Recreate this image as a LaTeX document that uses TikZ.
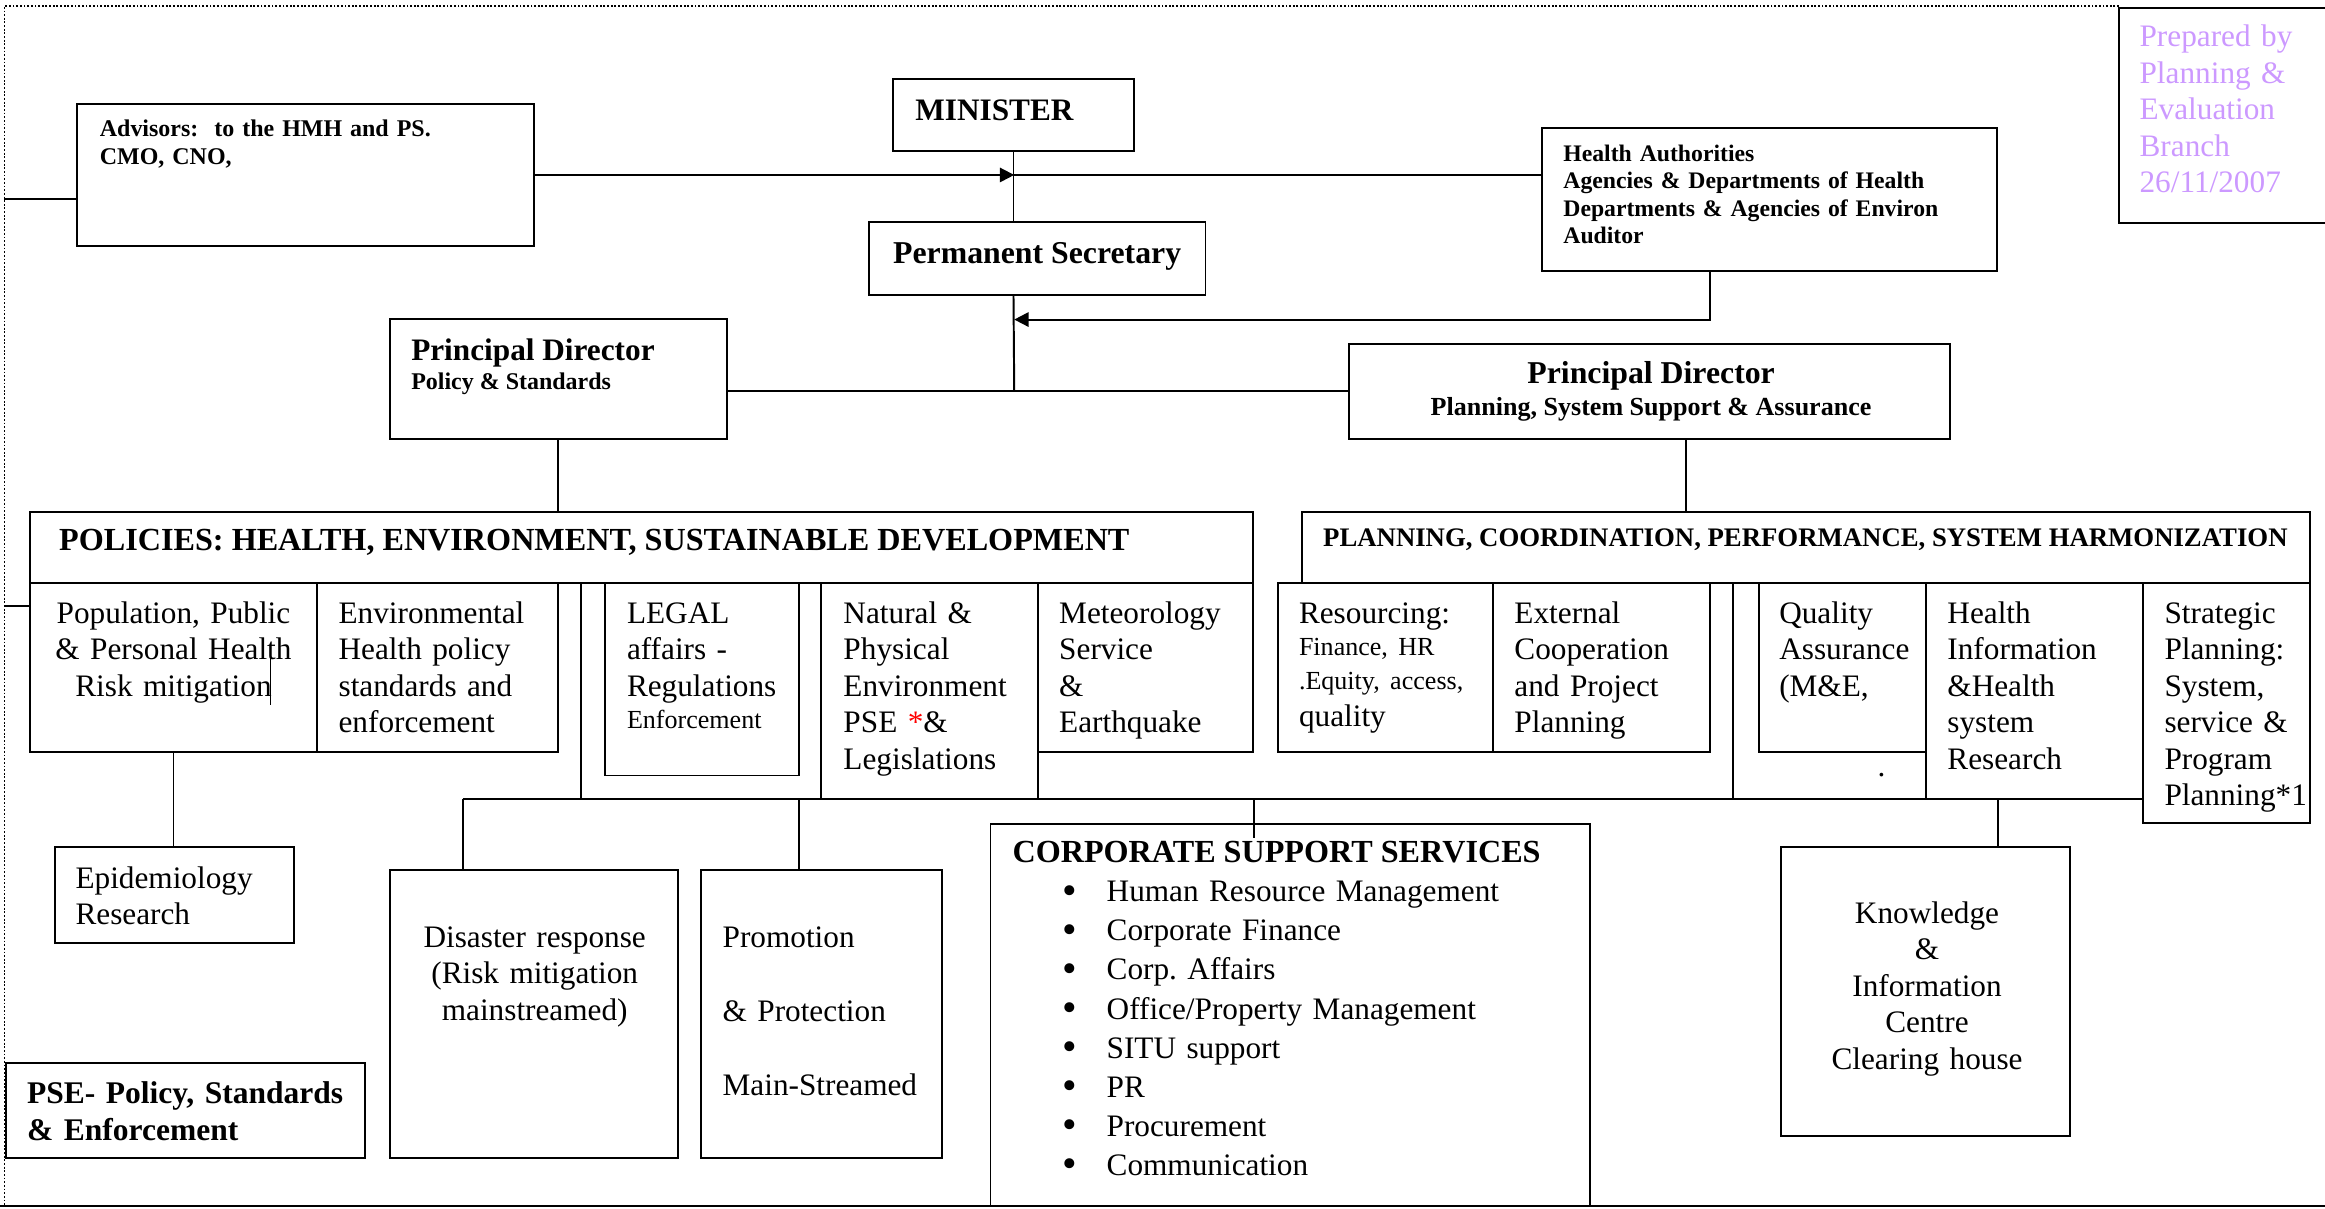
\documentclass[tikz,border=0pt]{standalone}
\usepackage{fontspec}
\setmainfont{Liberation Serif}
\usetikzlibrary{arrows.meta}
\definecolor{lav}{RGB}{204,153,255}
\newcommand\mkbox[5]{\node[box,minimum width={(#4-#2)*0.02cm},minimum height={(#5-#3)*0.02cm},anchor=north west] (#1) at (#2,#3) {};}
\newcommand\bul{\makebox[0.6cm][l]{\raisebox{-0.9pt}{\fontsize{16}{15}\selectfont\textbullet}}}
\begin{document}
\frenchspacing
\begin{tikzpicture}[x=0.02cm,y=-0.02cm,
  box/.style={draw,line width=0.75pt,inner sep=0pt,outer sep=0pt,rectangle},
  conn/.style={line width=0.75pt},
  arr/.style={line width=0.75pt,-{Triangle[length=5.5pt,width=5.5pt]}},
  tl/.style={inner sep=0pt,anchor=base west,align=left,font=\fontsize{12}{14}\selectfont},
  tc/.style={inner sep=0pt,anchor=base,align=center,font=\fontsize{12}{14}\selectfont},
  bs/.style={inner sep=0pt,anchor=base west,align=left,font=\bfseries\fontsize{9.2}{10.7}\selectfont},
  bb/.style={inner sep=0pt,anchor=base west,font=\bfseries\fontsize{12}{14}\selectfont},
  frame/.style={line width=0.6pt,dash pattern=on 0.7pt off 0.7pt}]
\useasboundingbox (0,0) rectangle (1568,815);
% frame
\draw[frame] (1429,4) -- (3,4) -- (3,813);
\draw[line width=0.9pt] (0,813.5) -- (1568,813.5);
\draw[box] (1568,5.6) -- (1429,5.6) -- (1429,150.6) -- (1568,150.6);
% boxes
\mkbox{adv}{52}{70}{360}{166}
\mkbox{min}{602}{53}{765}{102}
\mkbox{ps}{586}{150}{813}{199}
\mkbox{ha}{1040}{86}{1347}{183}
\mkbox{pdl}{263}{215}{490}{296}
\mkbox{pdr}{910}{232}{1315}{296}
\mkbox{pol}{20}{345}{845}{393}
\mkbox{ca}{20}{393}{214}{507}
\mkbox{cb}{214}{393}{376}{507}
\mkbox{legal}{408}{393}{539}{523}
\mkbox{nat}{554}{393}{700}{539}
\mkbox{met}{700}{393}{845}{507}
\mkbox{plan}{878}{345}{1558}{393}
\mkbox{res}{862}{393}{1007}{507}
\mkbox{ext}{1007}{393}{1153}{507}
\mkbox{qa}{1186}{393}{1299}{507}
\mkbox{hi}{1299}{393}{1445}{539}
\mkbox{sp}{1445}{393}{1558}{555}
\mkbox{epi}{37}{571}{198}{636}
\mkbox{dis}{263}{587}{457}{781}
\mkbox{pro}{473}{587}{635}{781}
\mkbox{css}{668}{556}{1072}{813}
\mkbox{kn}{1201}{571}{1396}{766}
\mkbox{pse}{4}{717}{246}{781}
% junction coordinates
\coordinate (fl1) at (3,134);
\coordinate (fl2) at (3,409);
\coordinate (j1) at (684,118);
\coordinate (j2) at (684,215.5);
\coordinate (j3) at (684,264);
\coordinate (jha) at (1153.5,200);
\coordinate (jpr) at (1137,320);
\coordinate (jv1) at (392,539);
\coordinate (jd) at (312,539);
\coordinate (jp) at (539,539);
\coordinate (jc) at (846,539);
\coordinate (cssend) at (846,565);
\coordinate (jv2) at (1169,539);
\coordinate (jk) at (1347.5,539);
% connectors
\draw[conn] (fl1) -- (adv.west |- fl1);
\draw[arr] (adv.east |- j1) -- (j1);
\draw[conn] (ha.west |- j1) -- (j1);
\draw[conn] (min.south) -- (min.south |- ps.north);
\draw[conn] (min.south |- ps.south) -- (j3);
\draw[arr] (jha |- ha.south) |- (j2);
\draw[conn] (pdl.east |- j3) -- (pdr.west |- j3);
\draw[conn] (pdl.south) -- (pdl.south |- pol.north);
\draw[conn] (jpr |- pdr.south) -- (jpr |- plan.north);
\draw[conn] (fl2) -- (ca.west |- fl2);
\draw[conn] (ca.south) -- (ca.south |- epi.north);
\draw[conn] (jv1 |- pol.south) -- (jv1);
\draw[conn] (jd) -- (sp.west |- jd);
\draw[conn] (jd) -- (jd |- dis.north);
\draw[conn] (jp) -- (jp |- pro.north);
\draw[conn] (jc) -- (cssend);
\draw[conn] (jv2 |- plan.south) -- (jv2);
\draw[conn] (jk) -- (jk |- kn.north);
\draw[line width=0.4pt] (182.3,438) -- (182.3,475.5);
% texts
\node[bs,text width=6cm,font=\bfseries\fontsize{9.2}{10.8}\selectfont] (tadv) at (67,92) {Advisors:~ to the HMH and PS.\\CMO, CNO,};
\node[bb] (tmin) at (617,81) {MINISTER};
\node[bb,font=\bfseries\fontsize{12.2}{14}\selectfont] (tps) at (602,177.6) {Permanent Secretary};
\node[bs,text width=6cm,font=\bfseries\fontsize{9.1}{10.5}\selectfont] (tha) at (1054,109) {Health Authorities\\Agencies \& Departments of Health\\Departments \& Agencies of Environ\\Auditor};
\node[tl,text width=2.6cm,text=lav] (tprep) at (1442.6,31.5) {Prepared by\\Planning \&\\Evaluation\\Branch\\26/11/2007};
\node[bb] (tpdl1) at (277,243) {Principal Director};
\node[bs] (tpdl2) at (277,262.5) {Policy \& Standards};
\node[bb,anchor=base,font=\bfseries\fontsize{12.2}{14}\selectfont] (tpdr1) at (1113.5,258.6) {Principal Director};
\node[bb,anchor=base,font=\bfseries\fontsize{10}{12}\selectfont] (tpdr2) at (1113.5,280) {Planning, System Support \& Assurance};
\node[bb,font=\bfseries\fontsize{12.35}{14}\selectfont] (tpol) at (39.6,371.4) {POLICIES: HEALTH, ENVIRONMENT, SUSTAINABLE DEVELOPMENT};
\node[bb,font=\bfseries\fontsize{10.27}{12}\selectfont] (tplan) at (892,368.8) {PLANNING, COORDINATION, PERFORMANCE, SYSTEM HARMONIZATION};
\node[tc,text width=3.7cm] (tca) at (117,420.3) {Population, Public\\\& Personal Health\\Risk mitigation};
\node[tl,text width=3cm] (tcb) at (228,420.3) {Environmental\\Health policy\\standards and\\enforcement};
\node[tl,text width=2.5cm] (tlegal) at (422.5,420.3) {LEGAL\\affairs -\\Regulations\\[-1.5pt]{\fontsize{10}{12}\selectfont Enforcement}};
\node[tl,text width=2.6cm] (tnat) at (568.5,420.3) {Natural \&\\Physical\\Environment\\PSE {\color{red}*}\&\\Legislations};
\node[tl,text width=2.6cm] (tmet) at (714,420.3) {Meteorology\\Service\\\&\\Earthquake};
\node[tl,text width=2.7cm] (tres) at (875.7,420.3) {Resourcing:\\[-1.8pt]{\fontsize{10}{12}\selectfont Finance, HR}\\[-0.6pt]{\fontsize{10}{12}\selectfont .Equity, access,}\\quality};
\node[tl,text width=2.7cm] (text) at (1021,420.3) {External\\Cooperation\\and Project\\Planning};
\node[tl,text width=2.2cm] (tqa) at (1199.6,420.3) {Quality\\Assurance\\(M\&E,};
\node[tl] (tdot) at (1266,524) {.};
\node[tl,text width=2.7cm] (thi) at (1313,420.3) {Health\\Information\\\&Health\\system\\Research};
\node[tl,text width=2.2cm] (tsp) at (1459.4,420.3) {Strategic\\Planning:\\System,\\service \&\\Program\\Planning*1};
\node[tl,text width=3cm] (tepi) at (50.6,599) {Epidemiology\\Research};
\node[tc,text width=3.8cm] (tdis) at (360.6,639) {Disaster response\\(Risk mitigation\\mainstreamed)};
\node[tl,text width=3cm,font=\fontsize{12}{28.4}\selectfont] (tpro) at (487,638.7) {Promotion\\\& Protection\\Main-Streamed};
\node[bb,align=left,text width=4.6cm,font=\bfseries\fontsize{12.1}{14.4}\selectfont] (tpse) at (17.9,744) {PSE- Policy, Standards\\\& Enforcement};
\node[bb,font=\bfseries\fontsize{12.35}{14}\selectfont] (tcss) at (682.5,582) {CORPORATE SUPPORT SERVICES};
\node[tl,text width=7cm,font=\fontsize{12}{15}\selectfont] (tcssl) at (716,608.2) {\bul Human Resource Management\\\bul Corporate Finance\\\bul Corp. Affairs\\\bul Office/Property Management\\\bul SITU support\\\bul PR\\\bul Procurement\\\bul Communication};
\node[tc,text width=3.8cm] (tkn) at (1299.6,622.7) {Knowledge\\\&\\Information\\Centre\\Clearing house};
\end{tikzpicture}
\end{document}
